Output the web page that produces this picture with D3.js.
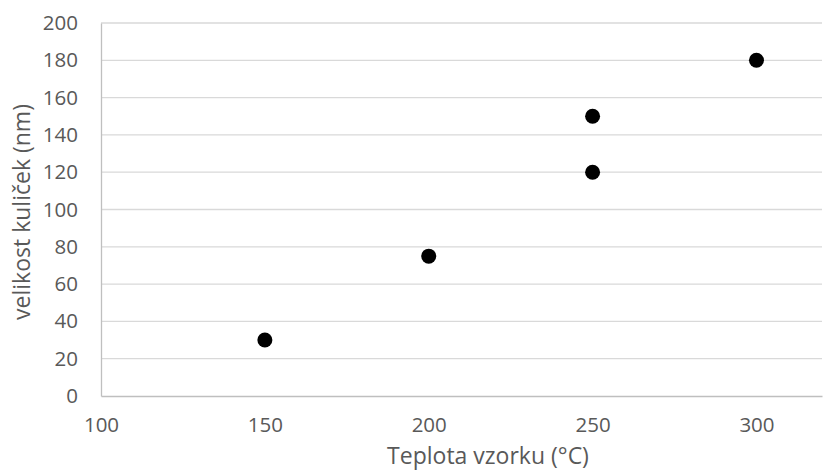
<!DOCTYPE html>
<html>
<head>
<meta charset="utf-8">
<script src="https://cdn.jsdelivr.net/npm/d3@7"></script>
<style>
  body { margin: 0; background: #fff; }
  text { font-family: "Open Sans", sans-serif; fill: #595959; }
</style>
</head>
<body>
<script>
// teplota (°C) a velikost kuliček (nm)
let teplota = [150, 200, 250, 250, 300];
let velikost = [30, 75, 120, 150, 180];
let xTicks = [100, 150, 200, 250, 300];
let yTicks = [0, 20, 40, 60, 80, 100, 120, 140, 160, 180, 200];

let margin = { top: 23, right: 4, bottom: 76, left: 101 };
let width = 826 - margin.left - margin.right;
let height = 472 - margin.top - margin.bottom;

let svg = d3.select("body").append("svg")
    .attr("width", 826)
    .attr("height", 472);

let g = svg.append("g")
    .attr("transform", "translate(" + margin.left + "," + margin.top + ")");

let xScale = d3.scaleLinear()
    .domain([100, 320])
    .range([0, width]);

let yScale = d3.scaleLinear()
    .domain([0, 200])
    .range([height, 0]);

// mřížka
g.selectAll(".grid")
    .data(yTicks.slice(1))
    .enter()
    .append("line")
    .attr("x1", 0)
    .attr("x2", width)
    .attr("y1", d => yScale(d))
    .attr("y2", d => yScale(d))
    .attr("stroke", "#d9d9d9")
    .attr("stroke-width", 1.3);

// osy
let yAxis = g.append("g")
    .call(d3.axisLeft(yScale).tickValues(yTicks).tickSize(0).tickPadding(23));
let xAxis = g.append("g")
    .attr("transform", "translate(0," + height + ")")
    .call(d3.axisBottom(xScale).tickValues(xTicks).tickSize(0).tickPadding(21));

[xAxis, yAxis].forEach(function(a){
    a.select(".domain").attr("stroke", "#bfbfbf").attr("stroke-width", 1.3);
    a.selectAll("text").style("font-size", "20.5px").attr("fill", "#595959");
});

// body
g.selectAll("circle")
    .data(teplota)
    .enter()
    .append("circle")
    .attr("cx", d => xScale(d))
    .attr("cy", (d, i) => yScale(velikost[i]))
    .attr("r", 7.5)
    .attr("fill", "#000");

// popisky os
svg.append("text")
    .attr("x", 488)
    .attr("y", 464)
    .attr("text-anchor", "middle")
    .style("font-size", "23px")
    .text("Teplota vzorku (°C)");

svg.append("text")
    .attr("transform", "translate(30,212) rotate(-90)")
    .attr("text-anchor", "middle")
    .style("font-size", "23px")
    .text("velikost kuliček (nm)");
</script>
</body>
</html>
